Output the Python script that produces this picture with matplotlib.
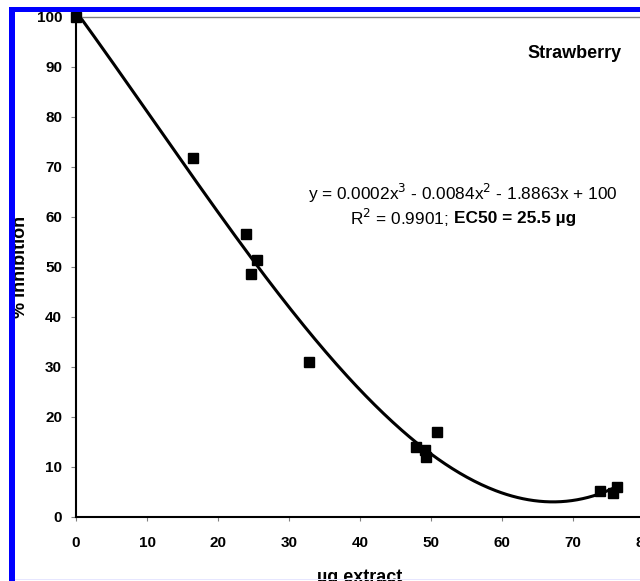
import numpy as np
import matplotlib
matplotlib.use("Agg")
import matplotlib.pyplot as plt
from matplotlib.patches import Rectangle

plt.rcParams['font.family'] = ['Liberation Sans', 'DejaVu Sans']

# Data (µg extract vs % inhibition)
extract_ug = [0.0, 16.5, 23.9, 24.6, 25.5, 32.8, 47.9, 49.2, 49.3, 50.8, 73.8, 75.6, 76.2]
inhibition = [100.0, 71.8, 56.6, 48.6, 51.4, 31.0, 14.0, 13.4, 12.0, 17.0, 5.2, 4.8, 6.0]

x_ticks = [0, 10, 20, 30, 40, 50, 60, 70, 80]
y_ticks = [0, 10, 20, 30, 40, 50, 60, 70, 80, 90, 100]

equation_text = "y = 0.0002x$^3$ - 0.0084x$^2$ - 1.8863x + 100"
r2_text = "R$^2$ = 0.9901;"
ec50_text = "EC50 = 25.5 µg"

W, H = 640, 581
fig = plt.figure(figsize=(W / 100, H / 100), dpi=100)
fig.patch.set_facecolor("white")

# axes box in pixels: x0 at 76, y0 at 517, y100 at 17, 7.1 px per unit in x
ax = fig.add_axes([76 / W, (H - 517) / H, 568 / W, 500 / H])

# 3rd order trend line fitted to the points (like the Excel trendline)
coef = np.polyfit(extract_ug, inhibition, 3)
xs = np.linspace(0, max(extract_ug), 300)
ax.plot(xs, np.polyval(coef, xs), color="black", lw=2.2, zorder=2)

ax.plot(extract_ug, inhibition, ls="none", marker="s", ms=6.5,
        color="black", clip_on=False, zorder=3)

ax.set_xlim(0, 80)
ax.set_ylim(0, 100)
ax.set_xticks(x_ticks)
ax.set_yticks(y_ticks)

for s in ["left", "bottom"]:
    ax.spines[s].set_color("black")
    ax.spines[s].set_linewidth(1.5)
ax.spines["top"].set_color("#808080")
ax.spines["top"].set_linewidth(1.0)
ax.spines["right"].set_visible(False)

ax.tick_params(axis="y", direction="out", length=3.5, width=0.8, color="#808080",
               pad=6.5, labelsize=11)
ax.tick_params(axis="x", direction="out", length=3, width=0.8, color="#808080",
               pad=11, labelsize=11)
for lbl in ax.get_xticklabels() + ax.get_yticklabels():
    lbl.set_fontweight("bold")

fig.text(622 / W, 1 - 53 / H, "Strawberry", ha="right", va="center",
         fontsize=13, fontweight="bold")

# trendline label, both lines centred on the same x
cx = 463
gap = 5
fig.text(cx / W, 1 - 193 / H, equation_text, ha="center", va="center", fontsize=12.4)
t_r2 = fig.text(0, 1 - 218 / H, r2_text, ha="left", va="center", fontsize=12.4)
t_ec = fig.text(0, 1 - 218 / H, ec50_text, ha="left", va="center", fontsize=12.4,
                fontweight="bold")
fig.canvas.draw()
r = fig.canvas.get_renderer()
w1 = t_r2.get_window_extent(r).width
w2 = t_ec.get_window_extent(r).width
x0 = cx - (w1 + gap + w2) / 2
t_r2.set_x(x0 / W)
t_ec.set_x((x0 + w1 + gap) / W)

fig.text(21 / W, 1 - 267 / H, "% inhibition", rotation=90, ha="center", va="center",
         fontsize=13, fontweight="bold")
fig.text(360 / W, 1 - 569 / H, "µg extract", ha="center", va="top",
         fontsize=13, fontweight="bold")

# blue frame on top/left and faint line at the bottom
fig.add_artist(Rectangle((9 / W, 0), 6 / W, 1 - 7 / H, transform=fig.transFigure,
                         facecolor="#0000ff", edgecolor="none", zorder=10))
fig.add_artist(Rectangle((9 / W, 1 - 12 / H), 1, 5 / H, transform=fig.transFigure,
                         facecolor="#0000ff", edgecolor="none", zorder=10))
fig.add_artist(Rectangle((15 / W, 1 - 580 / H), 1, 1.5 / H, transform=fig.transFigure,
                         facecolor="#e6e6ff", edgecolor="none", zorder=10))

fig.savefig("out.png", dpi=100)
